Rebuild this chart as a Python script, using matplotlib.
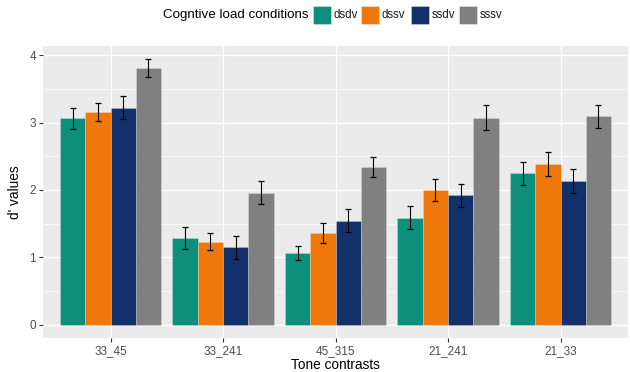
import matplotlib
matplotlib.use("Agg")
import matplotlib.pyplot as plt
import numpy as np
from matplotlib.patches import Rectangle

plt.rcParams['font.family'] = ['Liberation Sans', 'DejaVu Sans']

categories = ["33_45", "33_241", "45_315", "21_241", "21_33"]
conditions = ["dsdv", "dssv", "ssdv", "sssv"]
colors = ["#0E8F7E", "#F0780A", "#13306B", "#808080"]

means = {
    "dsdv": [3.06, 1.29, 1.07, 1.59, 2.25],
    "dssv": [3.15, 1.23, 1.36, 2.00, 2.38],
    "ssdv": [3.22, 1.15, 1.54, 1.92, 2.13],
    "sssv": [3.81, 1.96, 2.34, 3.07, 3.09],
}
errors = {
    "dsdv": [0.16, 0.16, 0.105, 0.165, 0.17],
    "dssv": [0.135, 0.125, 0.15, 0.16, 0.18],
    "ssdv": [0.17, 0.17, 0.17, 0.17, 0.18],
    "sssv": [0.135, 0.165, 0.155, 0.185, 0.175],
}

W, H = 630, 372
fig = plt.figure(figsize=(W/100, H/100), dpi=100)
fig.patch.set_facecolor("white")
ax = fig.add_axes([43/W, (H-338)/H, (628-43)/W, (338-46)/H])
ax.set_facecolor("#EBEBEB")

x = np.arange(len(categories))
bw = 0.225
for i, (cond, col) in enumerate(zip(conditions, colors)):
    pos = x + (i - 1.5) * bw
    ax.bar(pos, means[cond], width=bw, color=col, edgecolor=(1, 1, 1, 0.25),
           linewidth=0.6, zorder=2)
    ax.errorbar(pos, means[cond], yerr=errors[cond], fmt="none", ecolor="black",
                elinewidth=0.8, capsize=2.3, capthick=0.9, zorder=3)

ax.set_xlim(-0.6, len(categories) - 0.4)
ax.set_ylim(-0.197, 4.135)
ax.set_yticks([0, 1, 2, 3, 4])
ax.set_yticks([0.5, 1.5, 2.5, 3.5], minor=True)
ax.set_xticks(x)
ax.set_xticklabels(categories)
ax.grid(which="major", color="white", linewidth=1.0, zorder=0)
ax.grid(which="minor", axis="y", color="white", linewidth=0.5, zorder=0)
ax.set_axisbelow(True)
for s in ax.spines.values():
    s.set_visible(False)
ax.tick_params(axis="both", which="major", length=3, width=0.8, color="#333333",
               labelcolor="#4D4D4D", labelsize=8.5, pad=2)
ax.tick_params(axis="both", which="minor", length=0)
ax.set_xlabel("Tone contrasts", fontsize=9.8, color="black", labelpad=1)
ax.set_ylabel("d' values", fontsize=9.8, color="black", labelpad=5)

# Legend on top
fig.text(163/W, 1 - 15/H, "Cogntive load conditions", fontsize=9.6,
         ha="left", va="center", color="black")
key_x = [313, 361, 411, 459]
for kx, cond, col in zip(key_x, conditions, colors):
    fig.patches.append(Rectangle((kx/W, 1 - 24/H), 18/W, 18/H, transform=fig.transFigure,
                                 facecolor=col, edgecolor=(1, 1, 1, 0.4), linewidth=0.6))
    fig.text((kx + 21)/W, 1 - 15/H, cond, fontsize=8.3, ha="left", va="center",
             color="#1a1a1a")

fig.savefig("out.png", dpi=100)
